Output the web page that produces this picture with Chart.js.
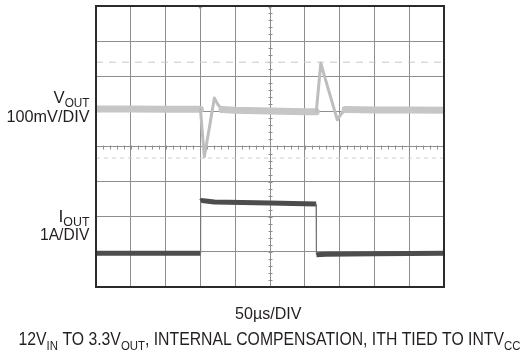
<!DOCTYPE html>
<html>
<head>
<meta charset="utf-8">
<script src="https://cdn.jsdelivr.net/npm/chart.js@4.4.1/dist/chart.umd.min.js"></script>
<style>
    html, body { margin: 0; padding: 0; background: #fff; }
    #wrap { width: 530px; height: 354px; position: relative; }
</style>
</head>
<body>
<div id="wrap"><canvas id="scope" width="530" height="354"></canvas></div>
<script>
// Time in µs (50µs/DIV, 10 divisions), levels in scope divisions from the bottom (8 divisions)
const voutTime = [0, 50, 100, 150, 150.5, 155.6, 163, 170, 175, 181, 200, 250, 300, 316.5, 323, 335, 346.7, 352, 358, 400, 450, 500];
const voutDiv  = [5.07, 5.07, 5.06, 5.06, 4.95, 3.71, 4.55, 5.38, 5.2, 5.05, 5.03, 5.01, 4.99, 4.99, 6.37, 5.55, 4.76, 4.92, 5.05, 5.04, 5.04, 5.03];

const ioutTime = [0, 100, 150, 150.3, 152, 170, 250, 316.3, 316.7, 330, 400, 500];
const ioutDiv  = [0.96, 0.96, 0.96, 2.44, 2.46, 2.42, 2.39, 2.36, 0.92, 0.93, 0.95, 0.96];

// dashed cursor levels (divisions)
const cursorDiv = [6.4, 3.67];

const xGrid = [0, 50, 100, 150, 200, 250, 300, 350, 400, 450, 500];
const yGrid = [0, 1, 2, 3, 4, 5, 6, 7, 8];

// windows where the VOUT trace is a thin transient instead of the noisy band
const transientWindows = [[150, 181], [316.5, 358]];

const voutLabel = [{ t: 'V' }, { t: 'OUT', sub: true }];
const voutScale = '100mV/DIV';
const ioutLabel = [{ t: 'I' }, { t: 'OUT', sub: true }];
const ioutScale = '1A/DIV';
const timeScale = '50µs/DIV';
const caption = [
    { t: '12V' }, { t: 'IN', sub: true }, { t: ' TO 3.3V' }, { t: 'OUT', sub: true },
    { t: ', INTERNAL COMPENSATION, ITH TIED TO INTV' }, { t: 'CC', sub: true }
];

const toPoints = (xs, ys) => xs.map((x, i) => ({ x: x, y: ys[i] }));

function inTransient(x0, x1) {
    return transientWindows.some(w => x0 >= w[0] && x1 <= w[1]);
}

// draw a label made of normal and subscript pieces, squeezed to a given width
function drawRich(ctx, parts, size, left, right, baseline) {
    const font = s => s + 'px "Liberation Sans", Arial, sans-serif';
    const subSize = Math.round(size * 0.72);
    let total = 0;
    parts.forEach(p => {
        ctx.font = font(p.sub ? subSize : size);
        total += ctx.measureText(p.t).width;
    });
    const sx = (right - left) / total;
    ctx.save();
    ctx.translate(left, baseline);
    ctx.scale(sx, 1);
    ctx.fillStyle = '#231f20';
    ctx.textBaseline = 'alphabetic';
    ctx.textAlign = 'left';
    let x = 0;
    parts.forEach(p => {
        ctx.font = font(p.sub ? subSize : size);
        ctx.fillText(p.t, x, p.sub ? Math.round(size * 0.25) : 0);
        x += ctx.measureText(p.t).width;
    });
    ctx.restore();
}

const scopeDecor = {
    id: 'scopeDecor',
    beforeDatasetsDraw(chart) {
        const { ctx, chartArea: a, scales } = chart;
        const xs = scales.x, ys = scales.y;
        ctx.save();
        ctx.strokeStyle = '#8e8e8e';
        ctx.lineWidth = 1;
        // minor ticks on the centre lines
        const cy = Math.round(ys.getPixelForValue(4)) + 0.5;
        for (let d = 0; d <= 10; d += 0.2) {
            const px = Math.round(xs.getPixelForValue(d * 50)) + 0.5;
            ctx.beginPath();
            ctx.moveTo(px, cy - 2);
            ctx.lineTo(px, cy + 2);
            ctx.stroke();
        }
        const cx = Math.round(xs.getPixelForValue(250)) + 0.5;
        for (let d = 0; d <= 8; d += 0.2) {
            const py = Math.round(ys.getPixelForValue(d)) + 0.5;
            ctx.beginPath();
            ctx.moveTo(cx - 2, py);
            ctx.lineTo(cx + 2, py);
            ctx.stroke();
        }
        // trigger markers at the top
        ctx.fillStyle = '#9a9a9a';
        [150, 250].forEach(t => {
            const px = xs.getPixelForValue(t);
            ctx.beginPath();
            ctx.moveTo(px - 2.5, a.top);
            ctx.lineTo(px + 2.5, a.top);
            ctx.lineTo(px, a.top + 4);
            ctx.closePath();
            ctx.fill();
        });
        ctx.restore();
    },
    afterDraw(chart) {
        const { ctx, chartArea: a } = chart;
        ctx.save();
        ctx.strokeStyle = '#2b2b2b';
        ctx.lineWidth = 2;
        ctx.strokeRect(a.left, a.top, a.right - a.left, a.bottom - a.top);
        ctx.restore();

        drawRich(ctx, voutLabel, 17, 53.5, 89.5, 103);
        drawRich(ctx, [{ t: voutScale }], 17, 6.5, 89.5, 121.5);
        drawRich(ctx, ioutLabel, 17, 58.5, 89.5, 221.5);
        drawRich(ctx, [{ t: ioutScale }], 17, 40, 89.5, 240);
        drawRich(ctx, [{ t: timeScale }], 17, 235, 301.5, 318.5);
        drawRich(ctx, caption, 18, 18.5, 520.5, 345);
    }
};

const ctx = document.getElementById('scope');
new Chart(ctx, {
    type: 'line',
    data: {
        datasets: [
            {
                label: 'VOUT',
                data: toPoints(voutTime, voutDiv),
                borderColor: '#c6c6c6',
                borderWidth: 7,
                borderJoinStyle: 'round',
                borderCapStyle: 'round',
                pointRadius: 0,
                tension: 0,
                segment: {
                    borderWidth: c => inTransient(c.p0.parsed.x, c.p1.parsed.x) ? 3 : 7,
                    borderColor: c => inTransient(c.p0.parsed.x, c.p1.parsed.x) ? '#bebebe' : '#c6c6c6'
                }
            },
            {
                label: 'IOUT',
                data: toPoints(ioutTime, ioutDiv),
                borderColor: '#4d4d4d',
                borderWidth: 5,
                pointRadius: 0,
                tension: 0,
                segment: {
                    borderWidth: c => Math.abs(c.p1.parsed.x - c.p0.parsed.x) < 1 ? 1.2 : 5,
                    borderColor: c => Math.abs(c.p1.parsed.x - c.p0.parsed.x) < 1 ? '#777' : '#4d4d4d'
                }
            },
            {
                label: 'cursor A',
                data: toPoints([0, 500], [cursorDiv[0], cursorDiv[0]]),
                borderColor: '#c8c8c8',
                borderWidth: 1,
                borderDash: [7, 6],
                pointRadius: 0
            },
            {
                label: 'cursor B',
                data: toPoints([0, 500], [cursorDiv[1], cursorDiv[1]]),
                borderColor: '#cfcfcf',
                borderWidth: 1,
                borderDash: [4, 4],
                pointRadius: 0
            }
        ]
    },
    options: {
        responsive: false,
        animation: false,
        layout: { padding: { left: 96, right: 86, top: 6, bottom: 67 } },
        plugins: {
            legend: { display: false },
            tooltip: { enabled: false }
        },
        scales: {
            x: {
                type: 'linear',
                min: 0,
                max: 500,
                afterBuildTicks: s => { s.ticks = xGrid.map(v => ({ value: v })); },
                ticks: { display: false },
                grid: { color: '#8e8e8e', lineWidth: 1, drawTicks: false },
                border: { display: false }
            },
            y: {
                type: 'linear',
                min: 0,
                max: 8,
                afterBuildTicks: s => { s.ticks = yGrid.map(v => ({ value: v })); },
                ticks: { display: false },
                grid: { color: '#8e8e8e', lineWidth: 1, drawTicks: false },
                border: { display: false }
            }
        }
    },
    plugins: [scopeDecor]
});
</script>
</body>
</html>
